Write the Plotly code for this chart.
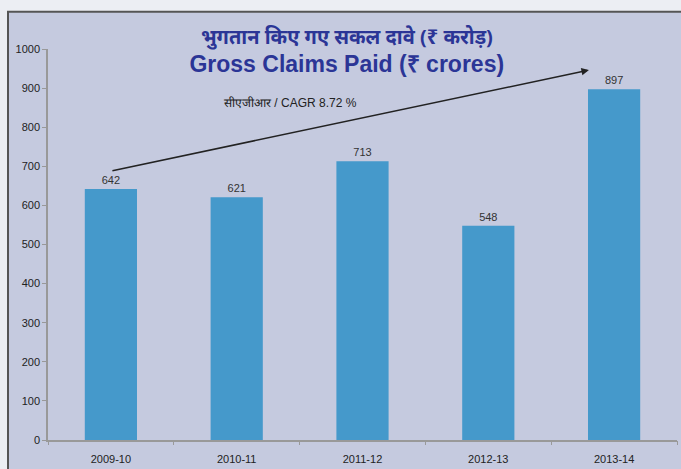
import plotly.graph_objects as go

years = ["2009-10", "2010-11", "2011-12", "2012-13", "2013-14"]
claims = [642, 621, 713, 548, 897]
y_ticks = list(range(0, 1001, 100))
title_hi = "भुगतान किए गए सकल दावे (₹ करोड़)"
title_en = "Gross Claims Paid (₹ crores)"
cagr_text = "सीएजीआर / CAGR 8.72 %"
# arrow endpoints in data units (category index, value)
arrow_start = (0, 688)
arrow_end = (3.8, 946)
cagr_pos = (1.43, 862)

FONT = "Liberation Sans, Arial, sans-serif"

fig = go.Figure()
fig.add_trace(go.Bar(
    x=list(range(len(years))), y=claims,
    marker=dict(color="#4599cb", line=dict(color="#55b0e0", width=0)),
    width=0.415,
    text=[str(v) for v in claims], textposition="outside",
    textfont=dict(family=FONT, size=11, color="#333333"),
    cliponaxis=False, hoverinfo="x+y",
))

fig.add_annotation(
    x=arrow_end[0], y=arrow_end[1], ax=arrow_start[0], ay=arrow_start[1],
    xref="x", yref="y", axref="x", ayref="y",
    showarrow=True, arrowhead=2, arrowsize=1, arrowwidth=1.5, arrowcolor="#222222",
    text="",
)
fig.add_annotation(
    x=cagr_pos[0], y=cagr_pos[1], xref="x", yref="y", showarrow=False,
    text=cagr_text,
    font=dict(family=FONT, size=12, color="#222222"),
)
fig.add_annotation(
    x=0.475, y=1.0 + (49 - 37) / 391, xref="paper", yref="paper", showarrow=False,
    text="<b>" + title_hi + "</b>", yanchor="middle",
    font=dict(family="Noto Sans, Liberation Sans, sans-serif", size=20, color="#2b3596"),
)

fig.add_shape(type="rect", xref="paper", yref="paper",
              x0=-40 / 629, x1=1.2, y0=-0.2, y1=1.095,
              fillcolor="#c5cadf", line=dict(color="#555555", width=2), layer="below")

fig.update_layout(
    width=681, height=469,
    margin=dict(l=48, r=4, t=49, b=29, autoexpand=False),
    paper_bgcolor="#eceef3", plot_bgcolor="rgba(0,0,0,0)",
    showlegend=False,
    title=dict(text="<b>" + title_en + "</b>", x=0.475, xanchor="center", y=(469 - 64) / 469, yanchor="middle",
               xref="paper", yref="container",
               font=dict(family=FONT, size=23, color="#2b3596")),
    xaxis=dict(
        tickmode="array", tickvals=list(range(len(years))), ticktext=years,
        range=[-0.5, 4.5], showline=True, linecolor="#999999", linewidth=1.5,
        ticks="", showgrid=False, zeroline=False, ticklabelstandoff=8, automargin=False,
        tickfont=dict(family=FONT, size=11, color="#222222"),
    ),
    xaxis2=dict(overlaying="x", range=[-0.5, 4.5], tickvals=[-0.5, 0.5, 1.5, 2.5, 3.5, 4.5],
                ticks="outside", ticklen=4, tickcolor="#999999", showticklabels=False, automargin=False,
                showgrid=False, zeroline=False, showline=False, anchor="y", side="bottom"),
    yaxis=dict(
        range=[0, 1000], tickvals=y_ticks, showline=True, linecolor="#999999", linewidth=1.5,
        ticks="outside", ticklen=4, tickcolor="#999999", showgrid=False, zeroline=False, automargin=False,
        tickfont=dict(family=FONT, size=11, color="#222222"),
    ),
)
fig.add_trace(go.Scatter(x=[], y=[], xaxis="x2", showlegend=False))

fig.write_html("out.html", config={"displayModeBar": False},
               post_script="document.body.style.margin='0';document.body.style.overflow='hidden';")
